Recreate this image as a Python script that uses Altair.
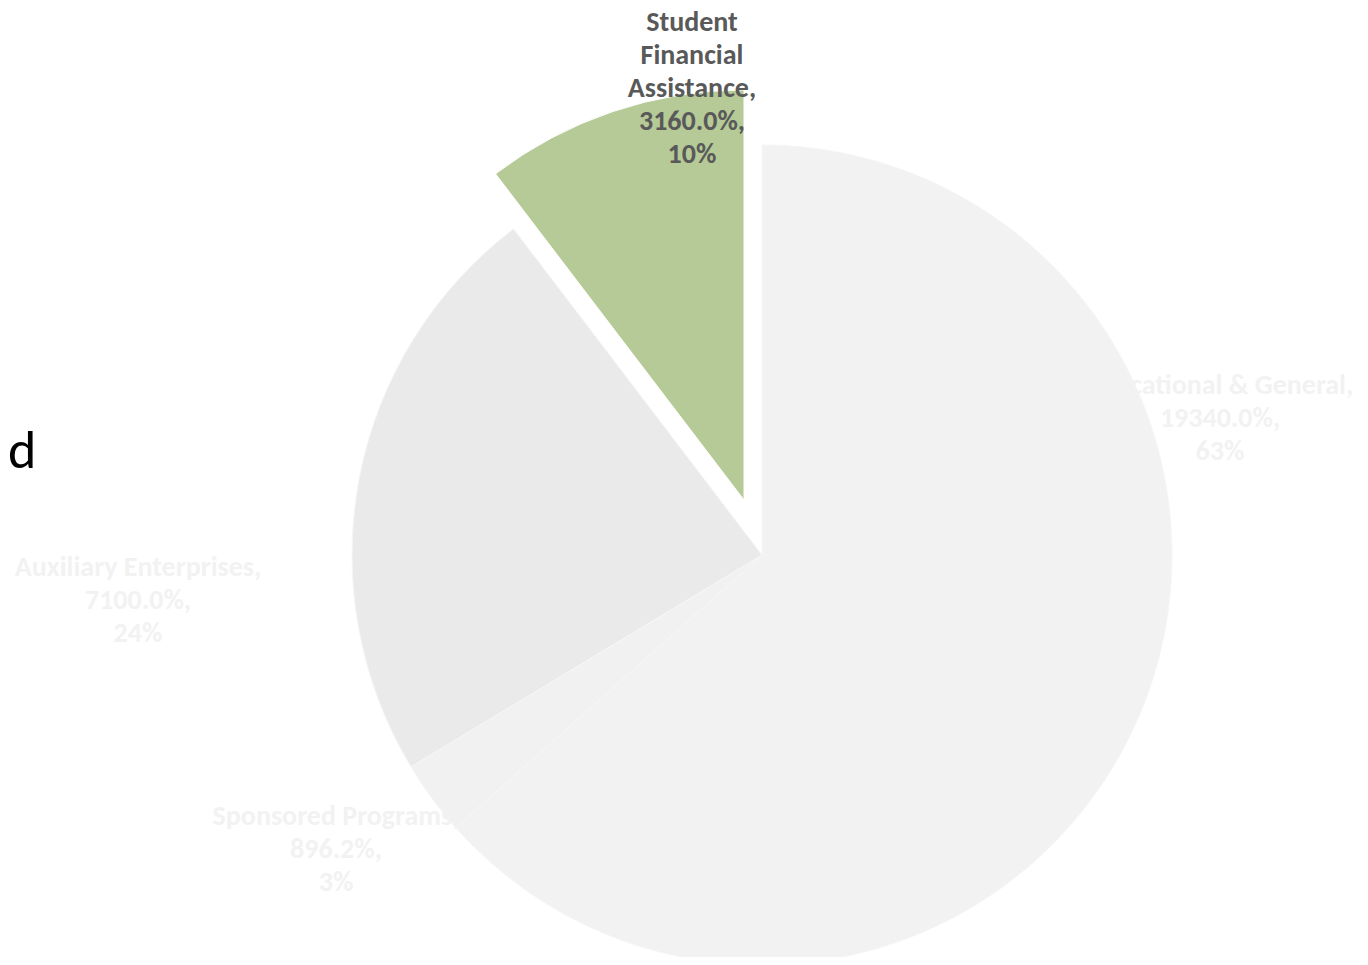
import altair as alt
import pandas as pd

# ---- data ----
categories = ["Educational & General", "Sponsored Programs", "Auxiliary Enterprises", "Student Financial Assistance"]
values = [19340.0, 896.2, 7100.0, 3160.0]
shares = [63, 3, 24, 10]
label_names = ["Educational & General,", "Sponsored Programs,", "Auxiliary Enterprises,", "Student\nFinancial\nAssistance,"]
exploded = [False, False, False, True]
title_text = ["d"]

# ---- styles ----
fills = ["#F2F2F2", "#F1F1F1", "#EAEAEA", "#B5CA96"]
label_colors = ["#F2F2F2", "#F2F2F2", "#F2F2F2", "#595959"]
FONT = "Carlito, Calibri, Roboto, sans-serif"

df = pd.DataFrame({
    "category": categories,
    "value": values,
    "order": list(range(len(categories))),
    "exploded": exploded,
    "label": [f"{n}\n{v:.1f}%,\n{s}%" for n, v, s in zip(label_names, values, shares)],
})

W, H = 1352, 949
cx, cy, R = 754, 547, 410
ex_dx, ex_dy = -18, -55

base = alt.Chart(df).encode(
    theta=alt.Theta("value:Q", stack=True),
    order=alt.Order("order:Q"),
    color=alt.Color("category:N", scale=alt.Scale(domain=categories, range=fills), legend=None),
)

pie = base.mark_arc(outerRadius=R, stroke="#F6F6F6", strokeWidth=1).encode(
    x=alt.value(cx), y=alt.value(cy),
    opacity=alt.condition("datum.exploded", alt.value(0), alt.value(1)),
)
pie_ex = base.mark_arc(outerRadius=R, stroke="white", strokeWidth=1).encode(
    x=alt.value(cx + ex_dx), y=alt.value(cy + ex_dy),
    opacity=alt.condition("datum.exploded", alt.value(1), alt.value(0)),
)

# y = centre of the first line of each label
label_pos = {
    "Educational & General": (1212, 378),
    "Sponsored Programs": (328, 809),
    "Auxiliary Enterprises": (130, 560),
    "Student Financial Assistance": (684, 15),
}

labels = []
for cat, col in zip(categories, label_colors):
    lx, ly = label_pos[cat]
    labels.append(
        alt.Chart(df).transform_filter(alt.datum.category == cat).mark_text(
            font=FONT, fontSize=28, fontWeight="bold", color=col,
            align="center", baseline="middle", lineBreak="\n", lineHeight=33,
        ).encode(x=alt.value(lx), y=alt.value(ly), text="label:N")
    )

title_frag = alt.Chart(pd.DataFrame({"t": title_text})).mark_text(
    font=FONT, fontSize=54, color="black", align="left", baseline="alphabetic",
).encode(x=alt.value(0), y=alt.value(460), text="t:N")

chart = alt.layer(pie, pie_ex, *labels, title_frag).properties(
    width=W, height=H, autosize="none", padding=0,
).configure_view(stroke=None)

chart.save("out.html", embed_options={"renderer": "svg", "actions": False})
